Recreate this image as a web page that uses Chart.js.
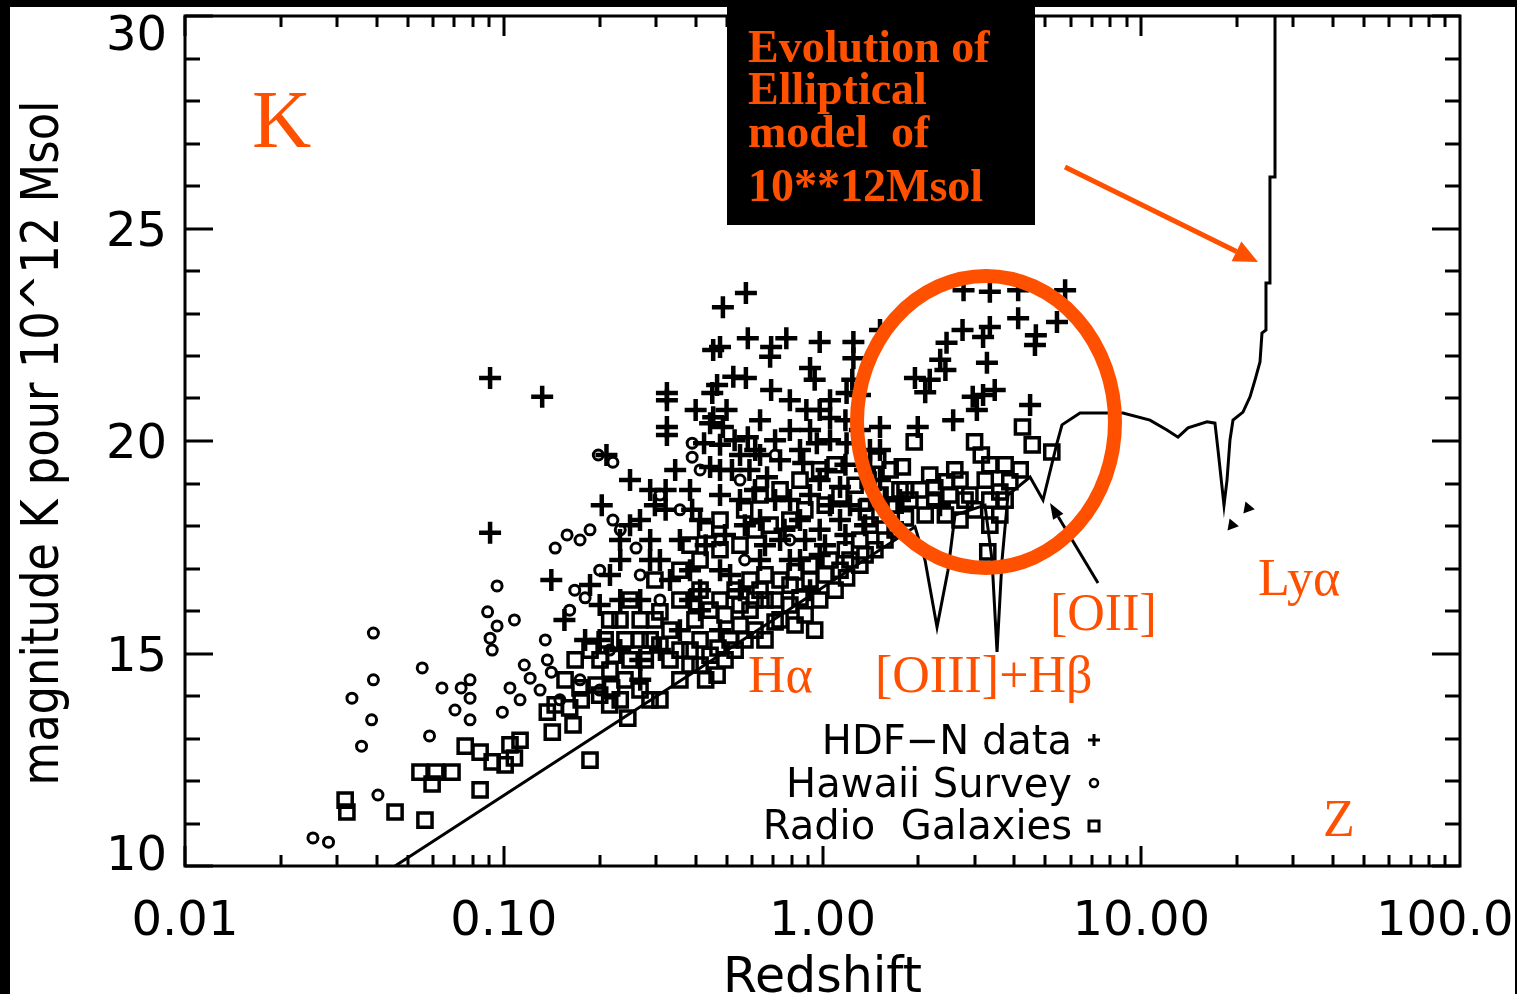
<!DOCTYPE html>
<html>
<head>
<meta charset="utf-8">
<title>Magnitude K vs redshift</title>
<script src="https://cdn.jsdelivr.net/npm/chart.js@4.4.1/dist/chart.umd.min.js"></script>
<style>
  html, body { margin: 0; padding: 0; background: #fff; }
  canvas { display: block; }
</style>
</head>
<body>
<canvas id="myChart" width="1517" height="994"></canvas>
<script>
// HDF-N data (plus signs)
const hdfZ = [0.0906, 0.132, 0.203, 0.0906, 0.141, 0.210, 0.575, 0.487, 0.477, 0.454, 0.583, 0.69, 0.685, 0.77, 0.98, 1.25,
  0.525, 0.575, 0.69, 0.451, 0.914, 0.945, 0.89, 0.98, 1.056, 1.25, 1.24, 1.19, 0.454, 0.50, 0.487, 0.583, 0.615, 0.79,
  0.85, 0.96, 1.19, 0.52, 0.67, 0.87, 1.03, 1.135, 0.425, 0.444, 0.325, 0.325, 0.325, 0.325, 0.467, 0.40, 0.444, 0.322,
  0.322, 0.39, 2.45, 2.43, 2.17, 2.34, 3.19, 3.28, 2.96, 3.05, 2.57, 1.515, 1.99, 3.35, 2.77, 3.35, 4.11, 5.77, 5.44, 4.64,
  4.48, 4.11, 2.75, 2.10, 1.95, 3.47, 4.67, 3.19, 1.515, 0.249, 0.288, 0.232, 0.268, 0.309, 0.357, 0.413, 0.477, 0.551,
  0.637, 0.736, 0.85, 0.98, 1.135, 1.31, 1.515, 1.41, 0.736, 0.413, 0.477, 0.551, 0.637, 0.79, 0.914, 0.357, 0.413, 0.477,
  0.309, 0.268, 0.2, 0.232, 0.18, 0.288, 0.249, 0.637, 0.53, 0.79, 1.056, 1.31, 1.18, 0.384, 0.59, 0.98, 0.71, 0.2, 0.155,
  0.232, 0.268,
  0.43, 0.4945, 0.571, 0.66, 0.76, 0.882, 1.018, 1.18, 1.36, 1.57, 0.477, 0.614, 0.791, 0.914, 1.056, 1.22, 1.36, 1.515,
  0.3841, 0.345, 0.298, 0.2676, 0.2316, 0.2154, 0.1865, 0.2877, 0.3324, 0.3841, 0.513, 0.8503, 0.98, 0.637, 0.5512, 0.71,
  0.914, 1.18, 1.056, 1.311, 0.477, 1.409, 1.75, 2.337];
const hdfK = [21.48, 21.04, 18.49, 17.84, 16.73, 19.67, 23.48, 23.15, 22.21, 22.14, 22.42, 22.21, 21.98, 22.42, 22.33, 22.33,
  21.51, 21.48, 21.2, 21.13, 21.72, 21.44, 20.73, 20.73, 20.54, 21.95, 21.44, 21.13, 20.56, 20.73, 20.33, 20.09, 19.79, 20.26,
  19.79, 19.95, 19.95, 19.32, 19.15, 19.48, 19.32, 18.92, 19.95, 19.39, 21.13, 20.96, 20.33, 20.14, 21.32, 20.73, 20.42, 18.85,
  18.38, 18.38, 22.31, 21.67, 21.44, 21.91, 22.45, 21.84, 21.04, 20.73, 20.49, 20.33, 20.33, 22.68, 23.55, 23.51, 23.55, 23.55, 22.8, 22.26,
  20.85, 22.89, 22.61, 21.15, 21.48, 21.2, 22.49, 21.08, 22.61, 18.02, 17.67, 17.2, 16.26, 17.2, 17.67, 18.14, 18.73, 18.61,
  18.14, 17.67, 18.14, 17.91, 18.14, 18.38, 19.08, 18.61, 19.55, 16.49, 16.96, 16.49, 17.2, 17.2, 16.49, 15.55, 16.02, 15.55,
  15.08, 14.85, 15.32, 16.26, 15.32, 18.85, 19.08, 20.49, 20.02, 20.96, 20.02, 20.26, 19.44, 16.96, 19.32, 19.08, 18.61, 16.14, 15.79,
  15.08, 14.38,
  17.55, 17.79, 18.02, 17.55, 17.91, 17.67, 17.55, 17.79, 18.02, 18.61, 19.32, 18.85, 18.61, 18.73, 18.49, 18.49, 19.32, 19.79,
  18.85, 19.32, 18.49, 18.14, 17.67, 16.85, 16.61, 17.2, 16.73, 16.26, 16.85, 17.2, 17.32, 19.67, 19.67, 20.02,
  20.26, 20.49, 20.96, 21.08, 19.91, 19.79, 18.61, 18.49];

// Hawaii Survey (small circles)
const hawaiiZ = [0.0252, 0.0282, 0.0334, 0.0390, 0.0390, 0.0385, 0.0358, 0.0403, 0.0555, 0.0585, 0.0640, 0.0735, 0.0784, 0.0703,
  0.092, 0.0906, 0.0953, 0.0953, 0.089, 0.135, 0.137, 0.141, 0.130, 0.1125, 0.1046, 0.121, 0.099, 0.145, 0.167, 0.180, 0.161,
  0.200, 0.1735, 0.158, 0.1865, 0.22, 0.26, 0.309, 0.39, 0.39, 0.232, 0.198, 0.22, 0.413, 0.71, 0.150, 0.1735, 0.215, 0.309,
  0.268, 0.0784, 0.0784, 0.108, 0.116, 0.477, 0.57, 0.79, 0.357, 0.551, 0.2];
const hawaiiK = [10.66, 10.56, 13.95, 15.48, 14.38, 13.44, 12.82, 11.67, 14.66, 13.06, 14.19, 14.19, 13.95, 13.67,
  15.08, 15.36, 15.65, 16.59, 15.98, 15.32, 14.85, 14.56, 14.14, 13.91, 14.19, 14.42, 13.62, 17.48, 16.49, 16.31, 16.02,
  16.96, 17.67, 17.79, 17.91, 18.14, 17.48, 18.73, 19.95, 19.62, 17.91, 19.67, 19.5, 19.32, 19.67, 13.91, 14.38, 15.08, 16.26,
  16.85, 13.44, 14.38, 15.79, 14.73, 17.67, 17.2, 17.67, 18.38, 19.08, 14.14];

// Radio Galaxies (open squares)
const radioZ = [0.0318, 0.0322, 0.0456, 0.0566, 0.0546, 0.0612, 0.0688, 0.0596, 0.0843, 0.0757, 0.0843, 0.092, 0.101, 0.108,
  0.1125, 0.1046, 0.137, 0.142, 0.165, 0.1865, 0.145, 0.161, 0.175, 0.200, 0.1735, 0.195, 0.215, 0.232, 0.245, 0.218,
  0.309, 0.357, 0.413, 0.467, 0.43, 0.470, 0.513, 0.551, 0.5925, 0.66, 0.71, 0.79, 0.85, 0.945, 0.98, 1.095, 1.19, 1.31,
  1.46, 1.57, 1.69, 1.82, 0.384, 0.413, 0.309, 0.278, 0.288, 0.268, 0.309, 0.357, 0.413, 0.477, 0.532, 0.5925, 0.66, 0.736,
  0.82, 0.914, 1.056, 1.18, 1.31, 1.41, 1.515, 1.69, 0.413, 0.477, 0.551, 0.615, 0.685, 0.79, 0.88, 1.02, 1.135, 1.265,
  0.477, 0.57, 0.637, 0.736, 0.85, 0.98, 1.095, 0.24, 0.223, 0.249, 0.215, 0.298, 0.357, 0.384, 0.43, 1.94, 1.78, 1.49,
  2.17, 2.45, 3.0, 3.15, 3.35, 4.24, 4.55, 5.24, 3.74, 4.17, 3.35, 3.3, 2.02, 2.25, 2.51, 2.8, 3.0, 3.35, 3.6, 3.87, 2.7,
  1.88, 1.75, 2.43, 2.1, 2.7, 1.515, 1.39, 1.63, 3.74,
  0.2154, 0.240, 0.2676, 0.2877, 0.249, 0.3324, 0.3573, 0.3841, 0.4438, 0.4945, 0.532, 0.571, 0.614, 0.66, 0.7359, 0.82,
  0.882, 0.6369, 0.71, 0.791, 0.914, 1.018, 1.135, 1.22, 1.36, 0.4438, 0.4945, 0.5512, 0.614, 0.398, 0.3324, 0.298, 0.2676,
  0.2316, 0.208, 0.2005, 0.1865, 0.1675, 0.1557, 1.628, 1.815, 2.25, 2.6, 2.9, 3.24, 3.6];
const radioK = [11.55, 11.27, 11.27, 11.08, 12.21, 12.21, 12.21, 11.93, 11.79, 12.82, 12.68, 12.45, 12.38, 12.54,
  12.96, 12.85, 13.62, 13.15, 13.32, 12.49, 13.79, 13.72, 13.91, 14.02, 14.19, 14.26, 13.79, 13.91, 13.48, 14.19,
  13.91, 14.38, 14.73, 14.49, 14.38, 15.13, 15.32, 15.67, 16.02, 16.26, 15.74, 16.14, 16.31, 15.55, 16.26, 16.49, 16.78, 17.08,
  17.44, 17.67, 17.91, 18.19, 15.08, 15.32, 15.2, 14.85, 15.32, 15.79, 15.98, 16.26, 16.49, 16.26, 16.49, 16.73, 16.85, 16.73,
  16.92, 17.08, 17.2, 17.44, 17.67, 18.02, 18.26, 18.49, 17.2, 17.44, 17.55, 17.91, 18.02, 18.14, 18.38, 18.49, 18.73, 18.96,
  18.14, 18.38, 18.73, 18.85, 19.08, 19.32, 19.44, 15.32, 14.96, 16.26, 15.79, 16.73, 16.96, 17.55, 17.91, 19.98, 19.39, 19.55,
  19.2, 19.04, 19.98, 19.67, 19.44, 20.33, 19.91, 19.74, 19.44, 19.32, 18.02, 17.39, 18.85, 18.61, 18.73, 18.61, 18.38, 18.61, 18.8, 19.04, 19.08,
  18.61, 18.85, 18.26, 18.26, 18.14, 18.73, 19.08, 19.32, 18.61,
  14.61, 14.38, 14.14, 13.91, 14.85, 14.85, 15.08, 14.73, 14.96, 14.85, 15.08, 15.32, 15.55, 15.32, 15.79, 15.67,
  15.91, 16.49, 16.26, 16.61, 16.73, 16.85, 16.96, 17.2, 17.32, 16.02, 15.91, 16.14, 16.26, 15.79, 15.55, 15.79, 15.32,
  15.79, 15.32, 14.85, 15.08, 14.85, 14.38, 18.49, 18.85, 18.9, 19.32, 18.73, 19.08, 18.26];

// elliptical 10**12 Msol model track
const modelZ = [0.0456, 0.413, 1.951, 2.097, 2.287, 2.476, 2.604, 3.234, 3.403, 3.528, 3.658, 3.819, 4.478, 4.918, 5.441,
  5.641, 6.424, 7.586, 8.763, 10.65, 12.04, 13.04, 14.02, 16.08, 17.03, 17.41, 18.18, 18.58, 18.98, 19.40, 20.85, 21.94,
  22.75, 23.58, 23.92, 24.62, 24.62, 25.34, 25.34, 26.28, 26.28];
const modelK = [10.0, 14.66, 17.98, 17.20, 15.62, 16.96, 18.26, 18.49, 17.20, 15.04, 17.20, 18.73, 19.15, 18.61, 19.95,
  20.38, 20.66, 20.66, 20.66, 20.49, 20.26, 20.09, 20.31, 20.45, 20.42, 19.79, 18.49, 19.08, 20.02, 20.49, 20.68, 21.04,
  21.44, 21.86, 22.54, 22.61, 23.72, 23.72, 26.21, 26.21, 30.5];

// the two limit arrows under the Lya dip
const limitZ = [19.26, 21.6];
const limitK = [18.02, 18.42];

// axes
const xTicks = [0.01, 0.1, 1, 10, 100];
const xTickLabels = ['0.01', '0.10', '1.00', '10.00', '100.00'];
const yTicks = [10, 15, 20, 25, 30];
const yTickLabels = ['10', '15', '20', '25', '30'];

const ORANGE = '#ff5000';
const SANS = '"DejaVu Sans", sans-serif';
const SERIF = '"Liberation Serif", "Times New Roman", serif';

const toPoints = (zs, ks) => zs.map((z, i) => ({ x: z, y: ks[i] }));

function arrow(ctx, x1, y1, x2, y2, headLen, headHalf) {
  const dx = x2 - x1, dy = y2 - y1;
  const len = Math.hypot(dx, dy);
  const ux = dx / len, uy = dy / len;
  const bx = x2 - ux * headLen, by = y2 - uy * headLen;
  ctx.beginPath();
  ctx.moveTo(x1, y1);
  ctx.lineTo(bx, by);
  ctx.stroke();
  ctx.beginPath();
  ctx.moveTo(x2, y2);
  ctx.lineTo(bx - uy * headHalf, by + ux * headHalf);
  ctx.lineTo(bx + uy * headHalf, by - ux * headHalf);
  ctx.closePath();
  ctx.fill();
}

const frame = {
  id: 'frame',
  afterDraw(chart) {
    const { ctx, chartArea: a, scales: { x, y } } = chart;
    ctx.save();

    // box + inward ticks
    ctx.strokeStyle = '#000';
    ctx.lineWidth = 3;
    ctx.strokeRect(a.left, a.top, a.right - a.left, a.bottom - a.top);
    ctx.beginPath();
    for (let d = -2; d < 2; d++) {
      for (let m = 1; m <= 9; m++) {
        const px = Math.round(x.getPixelForValue(m * Math.pow(10, d)));
        const len = m === 1 ? 20 : 11;
        ctx.moveTo(px, a.bottom); ctx.lineTo(px, a.bottom - len);
        ctx.moveTo(px, a.top); ctx.lineTo(px, a.top + len);
      }
    }
    for (let v = 10; v <= 30; v++) {
      const py = Math.round(y.getPixelForValue(v));
      const len = v % 5 === 0 ? 28 : 15;
      ctx.moveTo(a.left, py); ctx.lineTo(a.left + len, py);
      ctx.moveTo(a.right, py); ctx.lineTo(a.right - len, py);
    }
    ctx.stroke();

    // tick labels
    ctx.fillStyle = '#000';
    ctx.font = '48px ' + SANS;
    ctx.textBaseline = 'alphabetic';
    ctx.textAlign = 'right';
    yTicks.forEach((v, i) => {
      let py = y.getPixelForValue(v);
      py = Math.min(Math.max(py, a.top + 17), a.bottom - 13);
      ctx.fillText(yTickLabels[i], 167, py + 17);
    });
    ctx.textAlign = 'center';
    xTicks.forEach((v, i) => {
      ctx.fillText(xTickLabels[i], x.getPixelForValue(v), 935);
    });

    // axis titles
    ctx.font = '49px ' + SANS;
    ctx.fillText('Redshift', (a.left + a.right) / 2, 992);
    ctx.save();
    ctx.translate(58, 443);
    ctx.rotate(-Math.PI / 2);
    ctx.font = '52px ' + SANS;
    ctx.fillText('magnitude K pour 10^12 Msol', 0, 0, 685);
    ctx.restore();

    // legend inside the plot
    ctx.font = '40px ' + SANS;
    ctx.textAlign = 'right';
    ctx.fillText('HDF\u2212N data', 1072, 754);
    ctx.fillText('Hawaii Survey', 1072, 797);
    ctx.fillText('Radio  Galaxies', 1072, 839);
    ctx.lineWidth = 3;
    ctx.beginPath();
    ctx.moveTo(1088, 740); ctx.lineTo(1100, 740);
    ctx.moveTo(1094, 734); ctx.lineTo(1094, 746);
    ctx.stroke();
    ctx.lineWidth = 2.5;
    ctx.beginPath();
    ctx.arc(1094, 783, 4, 0, Math.PI * 2);
    ctx.stroke();
    ctx.lineWidth = 3;
    ctx.strokeRect(1089, 821, 10, 10);

    // black arrow to the [OII] dip
    arrow(ctx, 1098, 583, 1050, 503, 16, 6);

    // orange annotations
    ctx.strokeStyle = ORANGE;
    ctx.fillStyle = ORANGE;
    ctx.lineWidth = 14;
    ctx.beginPath();
    ctx.ellipse(986, 422, 129, 146, 0, 0, Math.PI * 2);
    ctx.stroke();
    ctx.lineWidth = 5;
    arrow(ctx, 1065, 167, 1258, 262, 24, 11);

    ctx.textAlign = 'left';
    ctx.font = '82px ' + SERIF;
    ctx.fillText('K', 252, 147);
    ctx.font = '52px ' + SERIF;
    ctx.fillText('H\u03b1', 748, 692);
    ctx.fillText('[OIII]+H\u03b2', 875, 692);
    ctx.fillText('[OII]', 1050, 630);
    ctx.fillText('Ly\u03b1', 1258, 595);
    ctx.fillText('Z', 1323, 836);

    // title box
    ctx.fillStyle = '#000';
    ctx.fillRect(727, 0, 308, 225);
    ctx.fillStyle = ORANGE;
    ctx.font = 'bold 46px ' + SERIF;
    ctx.fillText('Evolution of', 748, 62);
    ctx.fillText('Elliptical', 748, 104);
    ctx.fillText('model  of', 748, 147);
    ctx.fillText('10**12Msol', 748, 201);

    // black border of the slide
    ctx.fillStyle = '#000';
    ctx.fillRect(0, 0, 10, chart.height);
    ctx.fillRect(0, 0, chart.width, 7);
    ctx.fillRect(chart.width - 2, 0, 2, chart.height);
    ctx.restore();
  }
};

new Chart(document.getElementById('myChart'), {
  type: 'scatter',
  data: {
    datasets: [
      {
        label: 'Evolution of Elliptical model of 10**12Msol',
        data: toPoints(modelZ, modelK),
        showLine: true,
        borderColor: '#000',
        borderWidth: 3,
        pointRadius: 0,
        tension: 0
      },
      {
        label: 'HDF-N data',
        data: toPoints(hdfZ, hdfK),
        pointStyle: 'cross',
        pointRadius: 11,
        borderWidth: 4.5,
        pointBorderWidth: 4.5,
        pointBorderColor: '#000',
        borderColor: '#000'
      },
      {
        label: 'Hawaii Survey',
        data: toPoints(hawaiiZ, hawaiiK),
        pointStyle: 'circle',
        pointRadius: 5,
        borderWidth: 3,
        pointBorderWidth: 3,
        pointBorderColor: '#000',
        borderColor: '#000',
        pointBackgroundColor: 'rgba(0,0,0,0)'
      },
      {
        label: 'Radio Galaxies',
        data: toPoints(radioZ, radioK),
        pointStyle: 'rect',
        pointRadius: 10,
        borderWidth: 3.5,
        pointBorderWidth: 3.5,
        pointBorderColor: '#000',
        borderColor: '#000',
        pointBackgroundColor: 'rgba(0,0,0,0)'
      },
      {
        label: 'limits',
        data: toPoints(limitZ, limitK),
        pointStyle: 'triangle',
        rotation: 100,
        pointRadius: 7,
        pointBorderWidth: 0,
        pointBackgroundColor: '#000',
        pointBorderColor: '#000'
      }
    ]
  },
  options: {
    responsive: false,
    animation: false,
    events: [],
    layout: { padding: { left: 185, right: 57, top: 16, bottom: 128 } },
    plugins: {
      legend: { display: false },
      tooltip: { enabled: false }
    },
    scales: {
      x: { type: 'logarithmic', min: 0.01, max: 100, display: false },
      y: { type: 'linear', min: 10, max: 30, display: false }
    }
  },
  plugins: [frame]
});
</script>
</body>
</html>
